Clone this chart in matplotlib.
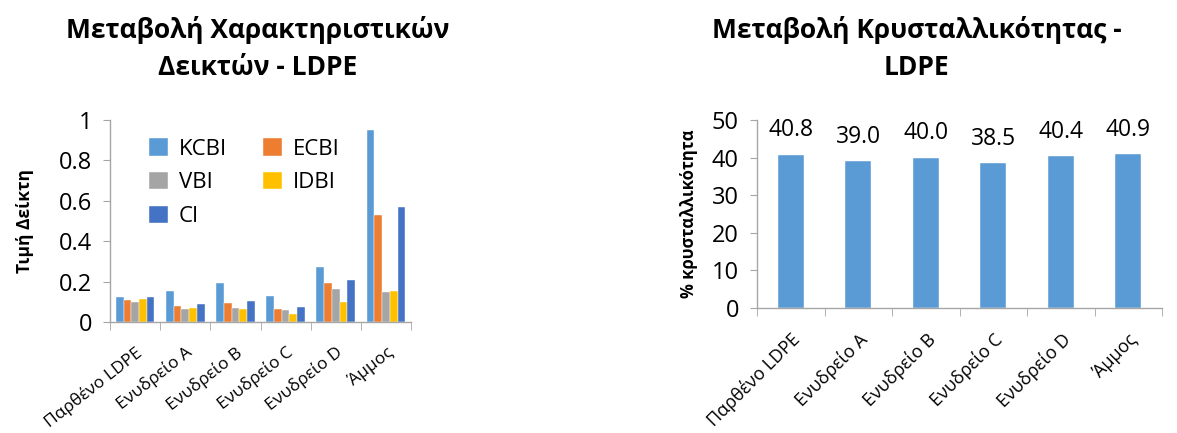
import numpy as np
import matplotlib
matplotlib.use("Agg")
import matplotlib.pyplot as plt

plt.rcParams['font.family'] = ['Open Sans', 'DejaVu Sans']

# κατηγορίες δειγμάτων
categories = ["Παρθένο LDPE", "Ενυδρείο A", "Ενυδρείο B", "Ενυδρείο C", "Ενυδρείο D", "Άμμος"]

# τιμές δεικτών ανά δείγμα
kcbi = [0.122, 0.153, 0.191, 0.127, 0.272, 0.949]
ecbi = [0.107, 0.081, 0.094, 0.063, 0.191, 0.530]
vbi = [0.097, 0.063, 0.069, 0.061, 0.163, 0.147]
idbi = [0.116, 0.069, 0.063, 0.038, 0.099, 0.152]
ci = [0.122, 0.089, 0.102, 0.073, 0.210, 0.569]

series_names = ["KCBI", "ECBI", "VBI", "IDBI", "CI"]
series_colors = ["#5B9BD5", "#ED7D31", "#A5A5A5", "#FFC000", "#4472C4"]

# % κρυσταλλικότητα
crystallinity = [40.8, 39.0, 40.0, 38.5, 40.4, 40.9]

axis_gray = "#A6A6A6"


def style_axes(ax, n):
    for s in ["top", "right"]:
        ax.spines[s].set_visible(False)
    for s in ["left", "bottom"]:
        ax.spines[s].set_color(axis_gray)
        ax.spines[s].set_linewidth(1.0)
    ax.set_xlim(-0.5, n - 0.5)
    ax.set_xticks(np.arange(n))
    ax.set_xticks(np.arange(n + 1) - 0.5, minor=True)
    ax.tick_params(axis="x", which="major", length=0)
    ax.tick_params(axis="x", which="minor", length=6, color=axis_gray, direction="out")
    ax.tick_params(axis="y", length=5, color=axis_gray, direction="out", labelsize=17, pad=8)


fig = plt.figure(figsize=(11.77, 4.33), dpi=100)

# αριστερό διάγραμμα: δείκτες
ax1 = fig.add_axes([0.0935, 0.2564, 0.2557, 0.4665])
x = np.arange(len(categories))
bw = 0.154
all_series = [kcbi, ecbi, vbi, idbi, ci]
handles = []
for i, (vals, name, col) in enumerate(zip(all_series, series_names, series_colors)):
    h = ax1.bar(x + (i - 2) * bw, vals, bw, color=col, label=name, edgecolor="white", linewidth=0.3)
    handles.append(h)
style_axes(ax1, len(categories))
ax1.set_ylim(0, 1)
ax1.set_yticks([0, 0.2, 0.4, 0.6, 0.8, 1])
ax1.set_yticklabels(["0", "0.2", "0.4", "0.6", "0.8", "1"])
ax1.set_xticklabels(categories, rotation=38, ha="right", va="top", rotation_mode="anchor", fontsize=12.5)
ax1.tick_params(axis="x", which="major", pad=16)
ax1.set_ylabel("Τιμή Δείκτη", fontsize=12.5, fontweight="bold", labelpad=18)

# υπόμνημα σε γραμμές: KCBI ECBI / VBI IDBI / CI
order = [0, 2, 4, 1, 3]
ax1.legend([handles[k] for k in order], [series_names[k] for k in order],
           ncol=2, loc="upper left", bbox_to_anchor=(0.1, 0.955), frameon=False, fontsize=16,
           handlelength=0.85, handleheight=0.85, handletextpad=0.5, columnspacing=1.6,
           labelspacing=0.55, borderaxespad=0)

# δεξί διάγραμμα: κρυσταλλικότητα
ax2 = fig.add_axes([0.6432, 0.2887, 0.3441, 0.4342])
bars = ax2.bar(x, crystallinity, 0.385, color="#5B9BD5", edgecolor="white", linewidth=0.3)
style_axes(ax2, len(categories))
ax2.set_ylim(0, 50)
ax2.set_yticks([0, 10, 20, 30, 40, 50])
ax2.set_xticklabels(categories, rotation=45, ha="right", va="top", rotation_mode="anchor", fontsize=13)
ax2.tick_params(axis="x", which="major", pad=16)
ax2.set_ylabel("% κρυσταλλικότητα", fontsize=12, fontweight="bold", labelpad=10)
ax2.bar_label(bars, labels=[f"{v:.1f}" for v in crystallinity], padding=9, fontsize=16.5)

# τίτλοι
fig.text(0.219, 0.888, "Μεταβολή Χαρακτηριστικών\nΔεικτών - LDPE", ha="center", va="center",
         fontsize=19, fontweight="bold", linespacing=1.5)
fig.text(0.779, 0.888, "Μεταβολή Κρυσταλλικότητας -\nLDPE", ha="center", va="center",
         fontsize=19, fontweight="bold", linespacing=1.5)

fig.savefig("out.png", dpi=100)
